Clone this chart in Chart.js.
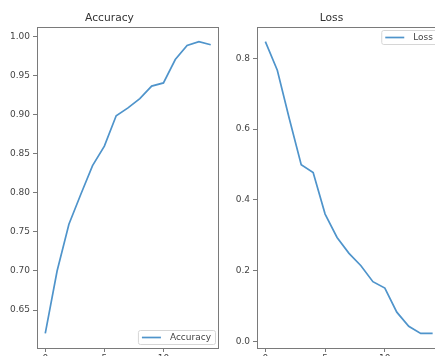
<!DOCTYPE html>
<html>
<head>
<meta charset="utf-8">
<script src="https://cdn.jsdelivr.net/npm/chart.js@4.4.0/dist/chart.umd.min.js"></script>
<style>
  html, body { margin: 0; padding: 0; background: #fff; overflow: hidden; }
  #wrap { position: relative; width: 435px; height: 356px; overflow: hidden; }
  canvas { position: absolute; top: 0; }
  #accCanvas { left: 0; }
  #lossCanvas { left: 222px; }
</style>
</head>
<body>
<div id="wrap">
  <canvas id="accCanvas" width="225" height="380"></canvas>
  <canvas id="lossCanvas" width="225" height="380"></canvas>
</div>
<script>
// ---- data ----
const epochs = [0, 1, 2, 3, 4, 5, 6, 7, 8, 9, 10, 11, 12, 13, 14];
const accuracy = [0.620, 0.700, 0.760, 0.798, 0.835, 0.860, 0.899, 0.909, 0.921, 0.937, 0.941, 0.971, 0.989, 0.994, 0.990];
const loss = [0.847, 0.766, 0.630, 0.499, 0.477, 0.360, 0.294, 0.249, 0.214, 0.169, 0.151, 0.083, 0.043, 0.023, 0.023];
const epochTicks = [0, 5, 10];
const accuracyTicks = [0.65, 0.70, 0.75, 0.80, 0.85, 0.90, 0.95, 1.00];
const lossTicks = [0.0, 0.2, 0.4, 0.6, 0.8];

const LINE = '#4f94cb';
const SPINE = '#7a7a7a';
const TEXT = '#444';
const FONT = 'DejaVu Sans';

// matplotlib style 5% margins
function padRange(values) {
    const lo = Math.min(...values), hi = Math.max(...values);
    const m = (hi - lo) * 0.05;
    return [lo - m, hi + m];
}

// four spines round the plot area
const framePlugin = {
    id: 'frame',
    afterDraw(chart) {
        const { ctx, chartArea: a } = chart;
        ctx.save();
        ctx.strokeStyle = SPINE;
        ctx.lineWidth = 1;
        ctx.strokeRect(Math.round(a.left) + 0.5, Math.round(a.top) + 0.5,
                       Math.round(a.right - a.left) - 1, Math.round(a.bottom - a.top));
        ctx.restore();
    }
};

// matplotlib-like legend box inside the axes
const boxLegendPlugin = {
    id: 'boxLegend',
    afterDraw(chart, args, opts) {
        const { ctx, chartArea: a } = chart;
        const ds = chart.data.datasets[0];
        ctx.save();
        ctx.font = '9px ' + FONT;
        const tw = ctx.measureText(ds.label).width;
        const w = 4 + 19 + 9 + tw + 4, h = 14;
        const x = a.right - 4 - w;
        const y = opts.corner === 'lower' ? a.bottom - 4 - h : a.top + 3;
        ctx.beginPath();
        ctx.roundRect(x + 0.5, y + 0.5, w, h, 2);
        ctx.fillStyle = 'rgba(255,255,255,0.8)';
        ctx.fill();
        ctx.strokeStyle = '#d6d6d6';
        ctx.lineWidth = 1;
        ctx.stroke();
        ctx.beginPath();
        ctx.moveTo(x + 4, y + h / 2 + 0.5);
        ctx.lineTo(x + 23, y + h / 2 + 0.5);
        ctx.strokeStyle = ds.borderColor;
        ctx.lineWidth = ds.borderWidth;
        ctx.stroke();
        ctx.fillStyle = TEXT;
        ctx.textBaseline = 'middle';
        ctx.fillText(ds.label, x + 32, y + h / 2 + 1);
        ctx.restore();
    }
};

function makeChart(canvasId, title, label, values, yTicks, decimals, yWidth, corner) {
    const [yMin, yMax] = padRange(values);
    const [xMin, xMax] = padRange(epochs);
    return new Chart(document.getElementById(canvasId), {
        type: 'line',
        data: {
            datasets: [{
                label: label,
                data: epochs.map((e, i) => ({ x: e, y: values[i] })),
                borderColor: LINE,
                borderWidth: 1.7,
                pointRadius: 0,
                tension: 0,
                fill: false
            }]
        },
        options: {
            responsive: false,
            animation: false,
            layout: { padding: { left: 0, right: 6, top: 0, bottom: 0 } },
            plugins: {
                legend: { display: false },
                tooltip: { enabled: false },
                title: {
                    display: true,
                    text: title,
                    color: '#333',
                    font: { family: FONT, size: 10.7, weight: 'normal' },
                    padding: { top: 12, bottom: 2.16 }
                },
                boxLegend: { corner: corner }
            },
            scales: {
                x: {
                    type: 'linear',
                    min: xMin,
                    max: xMax,
                    afterBuildTicks: s => { s.ticks = epochTicks.map(v => ({ value: v })); },
                    afterFit: s => { s.height = 32; },
                    border: { display: false },
                    grid: { drawOnChartArea: false, drawTicks: true, tickLength: 4, color: SPINE },
                    ticks: { color: TEXT, padding: 1, font: { family: FONT, size: 9 }, maxRotation: 0 }
                },
                y: {
                    min: yMin,
                    max: yMax,
                    afterBuildTicks: s => { s.ticks = yTicks.map(v => ({ value: v })); },
                    afterFit: s => { s.width = yWidth; },
                    border: { display: false },
                    grid: { drawOnChartArea: false, drawTicks: true, tickLength: 4, color: SPINE },
                    ticks: {
                        color: TEXT,
                        padding: 3,
                        font: { family: FONT, size: 9 },
                        callback: v => Number(v).toFixed(decimals)
                    }
                }
            }
        },
        plugins: [framePlugin, boxLegendPlugin]
    });
}

makeChart('accCanvas', 'Accuracy', 'Accuracy', accuracy, accuracyTicks, 2, 37, 'lower');
makeChart('lossCanvas', 'Loss', 'Loss', loss, lossTicks, 1, 35, 'upper');
</script>
</body>
</html>
